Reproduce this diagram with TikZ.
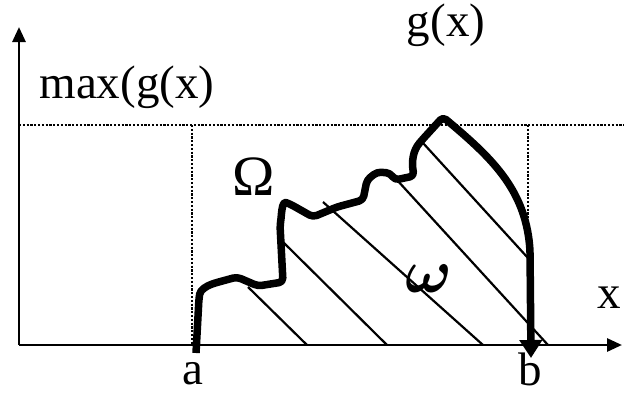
\documentclass[tikz,border=0pt]{standalone}
\usepackage{amsmath}
\usepackage{fontspec}
\setmainfont{Liberation Serif}
\usetikzlibrary{arrows.meta}

\begin{document}
\begin{tikzpicture}[x=1pt,y=-1pt,
    axis/.style={line width=2.8pt,-{Triangle[length=15pt,width=13pt]}},
    guide/.style={line width=2.2pt,dash pattern=on 2.2pt off 1.6pt},
    hatch/.style={line width=2.2pt},
    boundary/.style={line width=7.5pt,line join=round,-{Triangle[length=18pt,width=22pt]}},
    lbl/.style={inner sep=0pt,anchor=base,font=\fontsize{47}{50}\selectfont}]
  \useasboundingbox (0,0) rectangle (624,394);
  % axes and guides
  \coordinate (O) at (19,345);
  \coordinate (ytop) at (19,27);
  \coordinate (xend) at (622,345);
  \coordinate (maxl) at (19,125);
  \coordinate (maxr) at (624,125);
  \coordinate (ta) at (192,125);
  \coordinate (fa) at (192,345);
  \coordinate (tb) at (528,125);
  \coordinate (fb) at (528,345);
  \coordinate (start) at (196,353);
  \coordinate (peak) at (443,117);
  \coordinate (tip) at (531,358);
  \draw[guide] (maxl) -- (maxr);
  \draw[guide] (ta) -- (fa);
  \draw[guide] (tb) -- (fb);
  % hatching of omega
  \foreach \s/\e in {{248,287}/{307,345},{283,242}/{387,345},{323,202}/{483,345},{397,180}/{548,345},{423,143}/{528,258}}{
    \draw[hatch] (\s) -- (\e);}
  \draw[axis] (O) -- (ytop);
  \draw[axis] (O) -- (xend);
  % boundary g(x)
  \draw[boundary,rounded corners=4pt] (start) -- (199,298) to[out=80,in=200] (215,283) -- (237,277) -- (258,286)
    -- (283,282) -- (280,225) to[out=80,in=160] (290,204) -- (313,217) -- (337,207) -- (363,200)
    -- (367,180) -- (377,172) -- (390,173) -- (395,180) -- (414,176) to[out=100,in=230] (422,140)
    -- (peak) to[out=-40,in=95] (530,250) -- (tip);
  % labels
  \node[lbl] (maxg) at (127,98) {max(g(x)};
  \node[lbl] (gx) at (446,36) {g(x)};
  \node[lbl,font=\fontsize{57}{60}\selectfont] (Om) at (254,195) {Ω};
  \node[lbl,font=\normalsize] (om) at (429,292) {\scalebox{6.2}{$\boldsymbol{\omega}$}};
  \node[lbl] (xl) at (609,308) {x};
  \node[lbl] (al) at (193,384) {a};
  \node[lbl] (bl) at (530,385) {b};
\end{tikzpicture}
\end{document}
